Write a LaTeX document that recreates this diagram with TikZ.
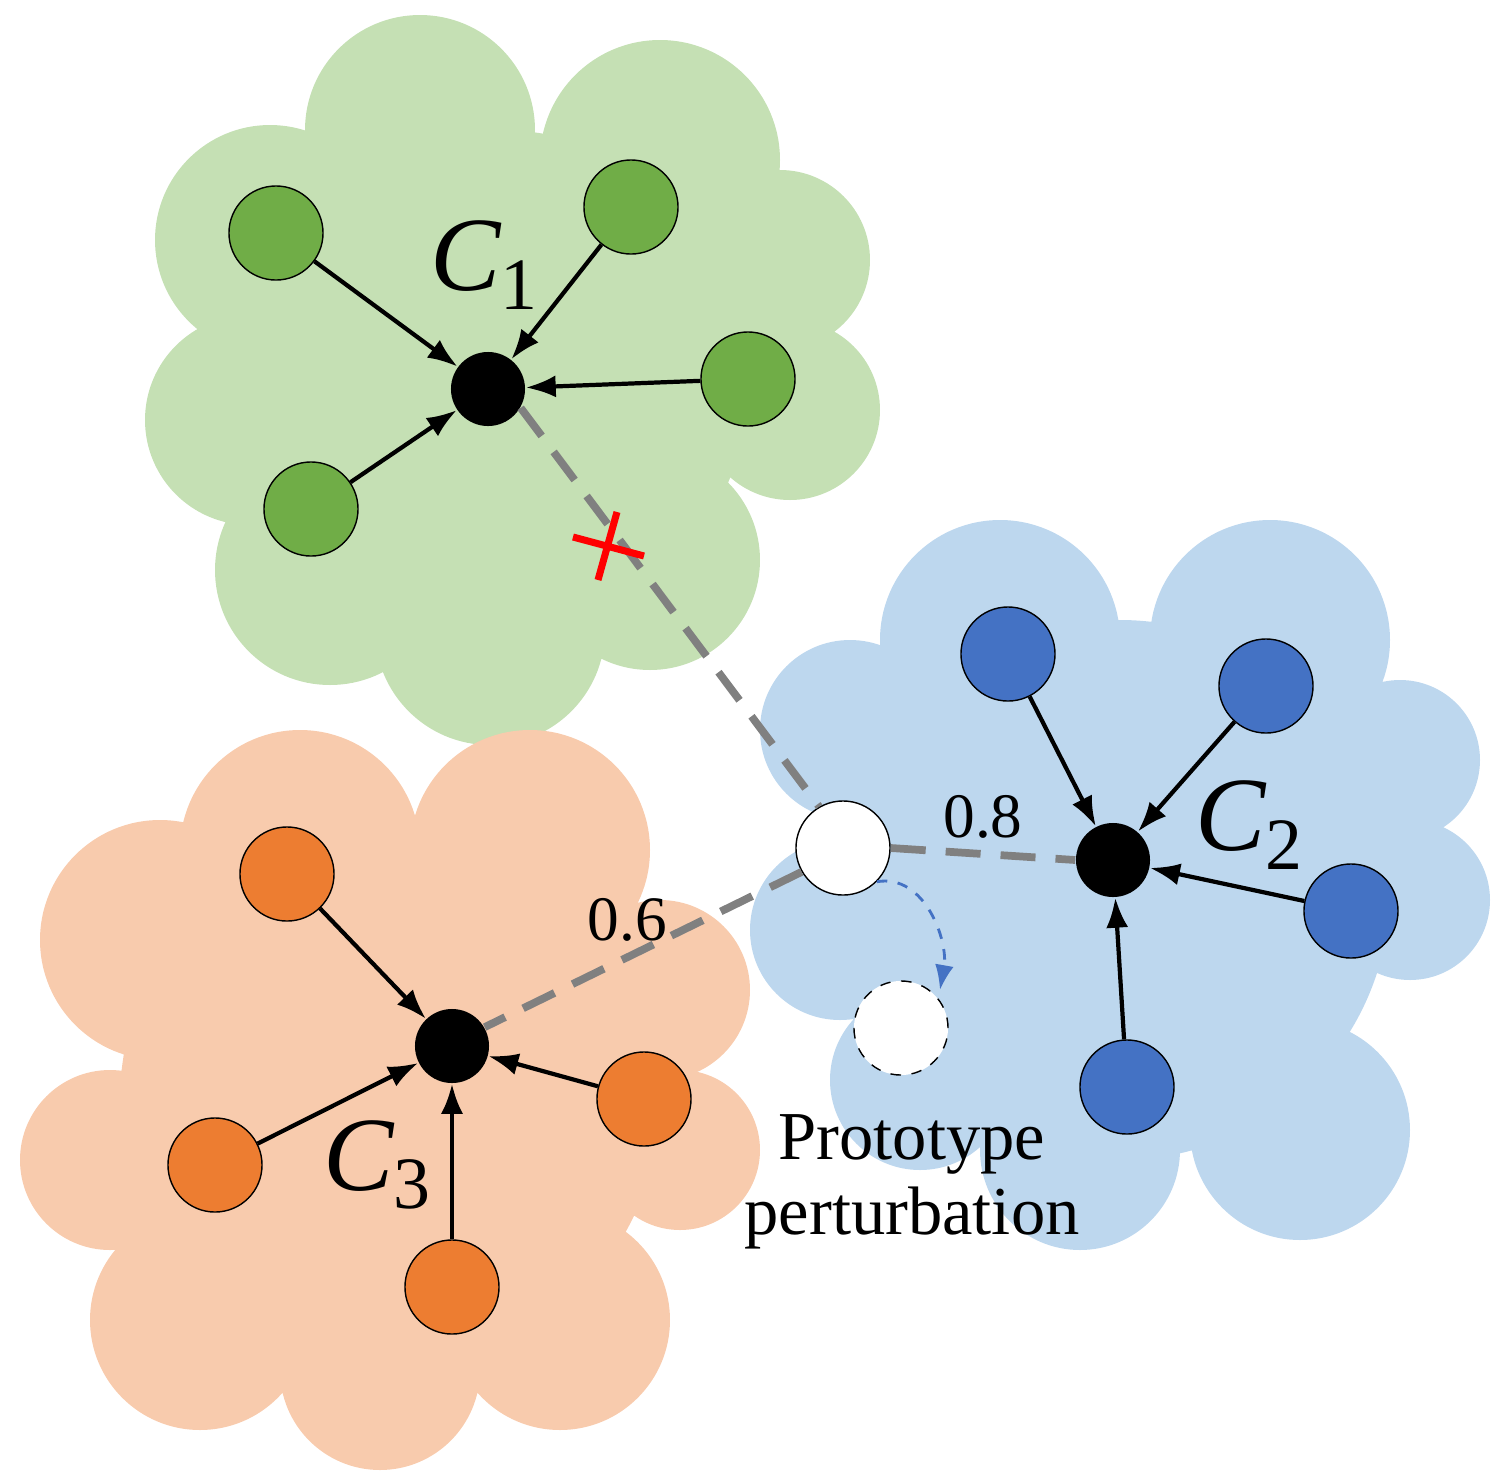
\documentclass[tikz,border=0pt]{standalone}
\usepackage{fontspec}
\setmainfont{Liberation Serif}
\usetikzlibrary{arrows.meta}
\begin{document}
\begin{tikzpicture}[x=0.01cm,y=-0.01cm,
 pt/.style={circle,draw=black,thin,minimum size=0.94cm,inner sep=0pt},
 ctr/.style={circle,fill=black,minimum size=0.74cm,inner sep=0pt},
 arr/.style={-{Latex[length=0.3cm,width=0.22cm]},line width=1.2pt},
 gdash/.style={draw=gray,line width=2.2pt,dash pattern=on 0.35cm off 0.2cm},
 lab/.style={font=\fontsize{30}{30}\selectfont\itshape}]
\useasboundingbox (0,0) rectangle (1511,1484);
\definecolor{gr}{RGB}{112,173,71}\definecolor{bl}{RGB}{68,114,196}\definecolor{og}{RGB}{237,125,49}
\definecolor{gc}{RGB}{197,224,180}\definecolor{bc}{RGB}{189,215,238}\definecolor{oc}{RGB}{248,203,173}
% clouds
\fill[gc] (500,380) circle (250) (420,130) circle (115) (660,160) circle (120) (270,240) circle (115) (780,260) circle (90) (790,410) circle (90) (250,420) circle (105) (330,570) circle (115) (490,630) circle (115) (650,560) circle (110);
\fill[bc] (1120,890) circle (270) (1000,640) circle (120) (1270,640) circle (120) (1400,760) circle (80) (1410,900) circle (80) (850,730) circle (90) (840,930) circle (90) (920,1080) circle (90) (1080,1150) circle (100) (1300,1130) circle (110);
\fill[oc] (390,1100) circle (270) (300,850) circle (120) (530,850) circle (120) (160,940) circle (120) (660,990) circle (90) (110,1160) circle (90) (680,1150) circle (80) (200,1320) circle (110) (380,1370) circle (100) (560,1320) circle (110);
% green
\node[ctr] (c1) at (488,389) {};
\foreach \n/\p in {g1/{(276,233)},g2/{(631,207)},g3/{(748,379)},g4/{(311,509)}}{\node[pt,fill=gr] (\n) at \p {}; \draw[arr] (\n) -- (c1);}
\node[lab] at (485,265) {C\textsubscript{\upshape 1}};
\node[ctr] (c2) at (1113,860) {};
\foreach \n/\p in {b1/{(1008,654)},b2/{(1266,686)},b3/{(1351,911)},b4/{(1127,1087)}}{\node[pt,fill=bl] (\n) at \p {}; \draw[arr] (\n) -- (c2);}
\node[lab] at (1250,825) {C\textsubscript{\upshape 2}};
\node[ctr] (c3) at (452,1046) {};
\foreach \n/\p in {o1/{(287,874)},o2/{(215,1165)},o3/{(452,1287)},o4/{(644,1099)}}{\node[pt,fill=og] (\n) at \p {}; \draw[arr] (\n) -- (c3);}
\node[lab] at (378,1165) {C\textsubscript{\upshape 3}};
% prototype
\node[pt,fill=white] (w) at (843,848) {};
\node[pt,fill=white,dashed] (wd) at (901,1028) {};
\draw[gdash] (c1.-30) -- (w.120);
\draw[gdash] (w.0) -- node[above,black,font=\fontsize{18}{18}\selectfont]{0.8} (c2.180);
\draw[gdash] (w.-150) -- node[above,black,font=\fontsize{18}{18}\selectfont,pos=0.55]{0.6} (c3.30);
\draw[red,line width=2pt] (573,537) -- (644,556) (617,512) -- (598,580);
\draw[bl,thick,dashed,-{Latex[length=0.25cm]}] (w.-45) to[out=10,in=80] (940,990);
\node[font=\fontsize{19.5}{21.5}\selectfont,align=center] at (912,1182) {Prototype\\perturbation};
\end{tikzpicture}
\end{document}
